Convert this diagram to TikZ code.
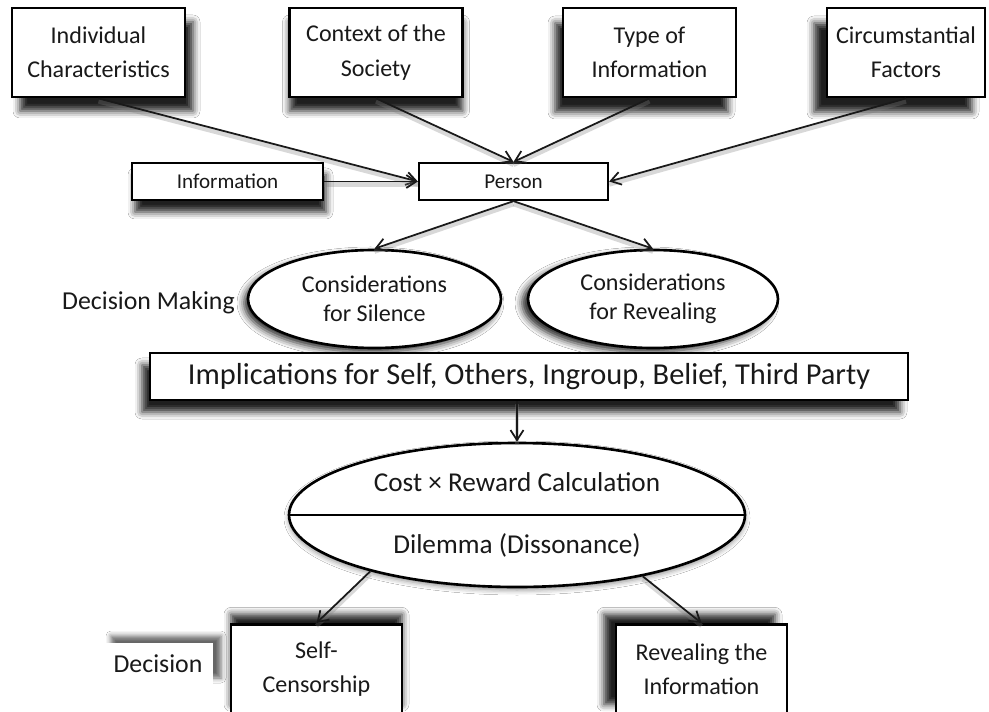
\documentclass[tikz,border=0pt]{standalone}
\usepackage{fontspec}
\setmainfont{Carlito}
\usetikzlibrary{shapes.geometric, arrows.meta, shadows.blur}

\begin{document}
\begin{tikzpicture}[
    % Define block style
    block/.style={rectangle, draw, line width=1.6pt, fill=white, text=black!90, align=center,
        font=\fontsize{13.7}{19.5}\selectfont, minimum width=3.46cm, minimum height=1.78cm, inner sep=2pt},
    % Define small block style
    smallblock/.style={block, line width=1.3pt, font=\fontsize{12}{14}\selectfont, minimum height=0.74cm},
    % Define ellipse style
    oval/.style={ellipse, draw, line width=1.5pt, fill=white, text=black!90, align=center,
        font=\fontsize{13.7}{16.5}\selectfont, inner sep=0pt},
    % Define plain text style
    note/.style={text=black!90, font=\fontsize{14.7}{17}\selectfont},
    % Define shadow style
    cast/.style 2 args={blur shadow={shadow xshift=#1, shadow yshift=#2, shadow opacity=88, shadow blur radius=0.14cm}},
    % Define arrow style
    arrow/.style={-{Straight Barb[length=2mm, width=2.6mm]}, line width=1pt, black!90,
        preaction={draw=black!50, line width=2.5pt, opacity=0.3, arrows=-, transform canvas={yshift=-0.06cm}}}
]

    % Page
    \fill[white] (0,0) rectangle (19.78,14.22);
    \useasboundingbox (0,0) rectangle (19.78,14.22);

    % Top row of factors
    \node[block, cast={0.16cm}{-0.28cm}] (indiv) at (1.97,13.17) {Individual\\Characteristics};
    \node[block, cast={0cm}{-0.28cm}] (society) at (7.52,13.17) {Context of the\\Society};
    \node[block, cast={-0.16cm}{-0.3cm}] (infotype) at (12.99,13.17) {Type of\\Information};
    \node[block, minimum width=3.16cm, cast={-0.26cm}{-0.3cm}] (circum) at (18.12,13.17) {Circumstantial\\Factors};

    % Information and person
    \node[smallblock, minimum width=3.82cm, cast={0.06cm}{-0.24cm}] (info) at (4.55,10.59) {Information};
    \node[smallblock, minimum width=3.78cm] (person) at (10.27,10.59) {Person};

    % Decision making
    \node[note] (making) at (2.97,8.16) {Decision Making};
    \node[oval, minimum width=5.06cm, minimum height=1.96cm, cast={-0.08cm}{-0.08cm}] (silence) at (7.49,8.24) {Considerations\\for Silence};
    \node[oval, minimum width=5.0cm, minimum height=1.96cm, cast={-0.12cm}{-0.08cm}] (revealing) at (13.06,8.24) {Considerations\\for Revealing};

    \node[block, minimum width=15.16cm, minimum height=0.94cm, font=\fontsize{17.3}{20}\selectfont, cast={-0.16cm}{-0.24cm}] (implications) at (10.58,6.69) {Implications for Self, Others, Ingroup, Belief, Third Party};

    % Calculation
    \node[oval, minimum width=9.12cm, minimum height=2.88cm, font=\fontsize{15.5}{35}\selectfont,
        blur shadow={shadow xshift=0cm, shadow yshift=-0.06cm, shadow opacity=45, shadow blur radius=0.1cm}] (cost) at (10.34,3.92) {Cost × Reward Calculation\\Dilemma (Dissonance)};
    \draw[line width=1.2pt] (cost.west) -- (cost.east);

    % Decision
    \node[note, fill=white, minimum width=2.2cm, minimum height=0.84cm,
        blur shadow={shadow xshift=0.16cm, shadow yshift=0.14cm, shadow opacity=60, shadow blur radius=0.1cm}] (decision) at (3.16,0.94) {Decision};
    \node[block, anchor=north, minimum width=3.42cm, minimum height=1.8cm, cast={0cm}{0.2cm}] (selfcensor) at (6.33,1.76) {Self-\\Censorship};
    \node[block, anchor=north, minimum width=3.42cm, minimum height=1.8cm, cast={-0.24cm}{0.2cm}] (revealinfo) at (14.03,1.76) {Revealing the\\Information};

    % Arrows
    \draw[arrow] (indiv.south) -- (person.west);
    \draw[arrow] (info) -- (person);
    \draw[arrow] (society.south) -- (person.north);
    \draw[arrow] (infotype.south) -- (person.north);
    \draw[arrow] (circum.south) -- (person.east);
    \draw[arrow] (person.south) -- (silence.north);
    \draw[arrow] (person.south) -- (revealing.north);
    \draw[arrow] (cost.north |- implications.south) -- (cost.north);
    \draw[arrow] (cost.201) -- (selfcensor.north);
    \draw[arrow] (cost.334) -- (revealinfo.north);

\end{tikzpicture}
\end{document}
